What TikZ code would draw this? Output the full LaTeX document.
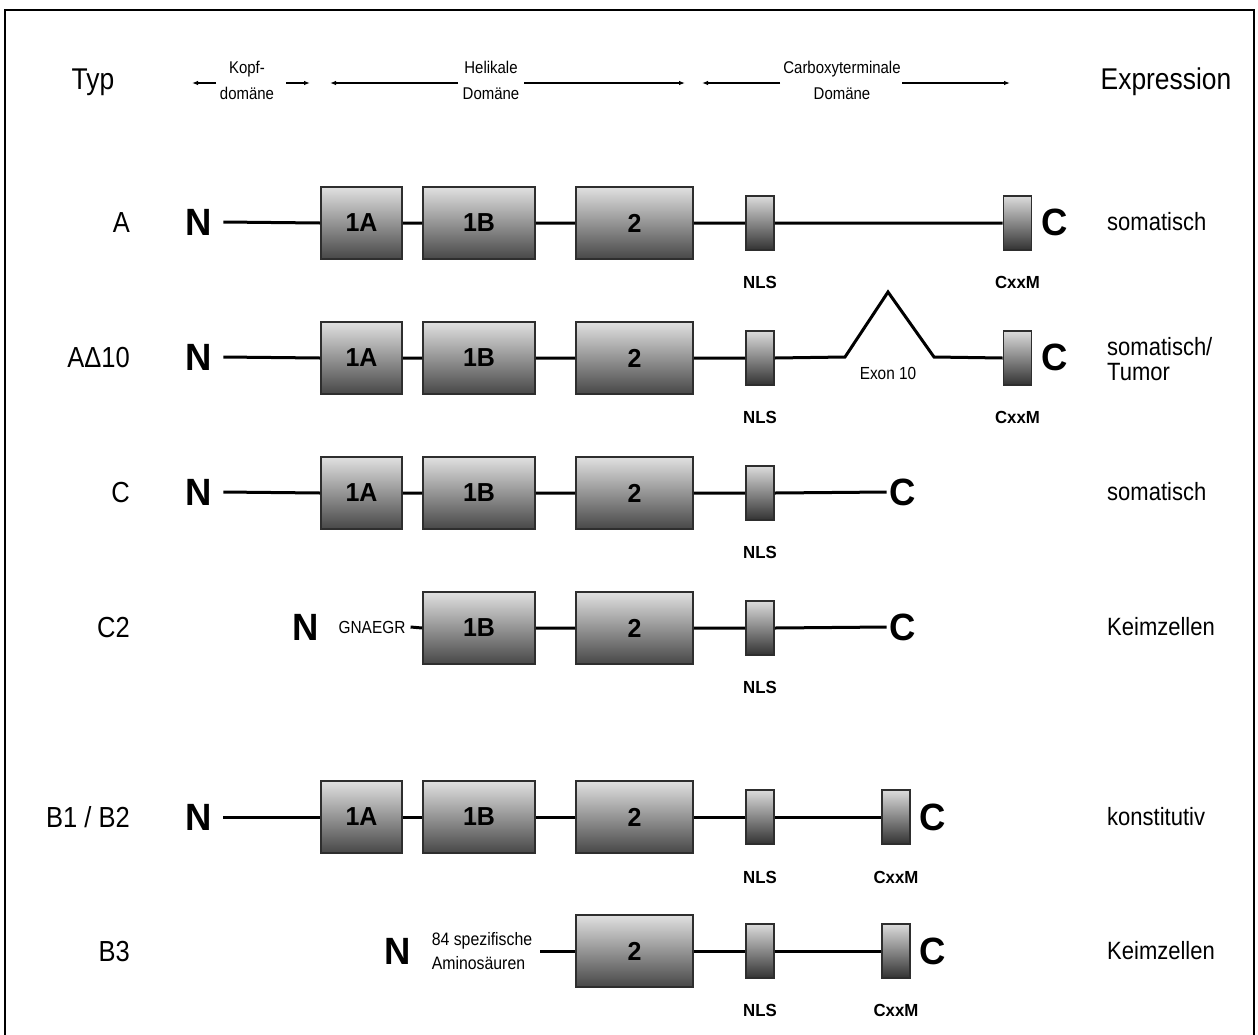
\documentclass[tikz,border=0pt]{standalone}
\usepackage{fontspec}
\setmainfont{Liberation Sans}[FakeStretch=0.88]
\newfontfamily\boldfam{Liberation Sans}[FakeStretch=0.96]
\usetikzlibrary{arrows.meta}
\begin{document}
\begin{tikzpicture}[x=1pt,y=-1pt,
  bigbox/.style={draw=black!82, line width=1.6pt, top color=black!12, bottom color=black!72,
    minimum width=#1, minimum height=72pt, inner sep=0pt, font=\boldfam\fontsize{26}{26}\selectfont\bfseries},
  smallbox/.style={draw=black!82, line width=1.6pt, top color=black!14, bottom color=black!80,
    minimum width=28pt, minimum height=54pt, inner sep=0pt},
  term/.style={font=\boldfam\fontsize{38}{38}\selectfont\bfseries, inner ysep=0pt, inner xsep=#1},
  term/.default=11pt,
  chain/.style={line width=3pt},
  motif/.style={font=\boldfam\fontsize{17.5}{17.5}\selectfont\bfseries, inner sep=0pt},
  typlab/.style={font=\fontsize{29}{29}\selectfont, inner sep=0pt, anchor=base east},
  exprlab/.style={font=\fontsize{25}{28}\selectfont, inner sep=0pt, anchor=base west},
  headtxt/.style={font=\fontsize{17}{26}\selectfont, align=center, inner sep=0pt},
  harr/.style={line width=1.1pt, -{Latex[length=6pt,width=4.5pt]}},
  note/.style={font=\fontsize{17.5}{21}\selectfont, inner ysep=0pt}
]
\useasboundingbox (0,0) rectangle (1258,1034);
\fill[white] (0,0) rectangle (1258,1034);
\draw[line width=2.5pt] (5,1045) -- (5,10) -- (1254,10) -- (1254,1045);

% header
\node[font=\fontsize{30}{30}\selectfont, inner sep=0pt, anchor=base] (typ) at (93,89) {Typ};
\node[font=\fontsize{30}{30}\selectfont, inner sep=0pt, anchor=base] (expr) at (1166,89) {Expression};
\node[headtxt] (kopf) at (247,80) {Kopf-\\domäne};
\node[headtxt] (heli) at (491,80) {Helikale\\Domäne};
\node[headtxt] (carb) at (842,80) {Carboxyterminale\\Domäne};
\coordinate (k1s) at (216,83); \coordinate (k1e) at (192,83);
\coordinate (k2s) at (286,83); \coordinate (k2e) at (310,83);
\coordinate (h1s) at (458,83); \coordinate (h1e) at (330,83);
\coordinate (h2s) at (524,83); \coordinate (h2e) at (685,83);
\coordinate (c1s) at (780,83); \coordinate (c1e) at (702,83);
\coordinate (c2s) at (902,83); \coordinate (c2e) at (1010,83);
\draw[harr] (k1s) -- (k1e);
\draw[harr] (k2s) -- (k2e);
\draw[harr] (h1s) -- (h1e);
\draw[harr] (h2s) -- (h2e);
\draw[harr] (c1s) -- (c1e);
\draw[harr] (c2s) -- (c2e);

% ---------- row A (y=222)
\node[typlab] (tA) at (130,232) {A};
\node[term] (nA) at (199,222) {N};
\node[bigbox=81pt] (aA) at (361.5,223) {1A};
\node[bigbox=112pt] (aB) at (479,223) {1B};
\node[bigbox=117pt] (a2) at (634.5,223) {2};
\node[smallbox] (aN) at (760,223) {};
\node[smallbox] (aX) at (1017.5,223) {};
\node[term] (aC) at (1055,222) {C};
\node[motif] (aNl) at (760,282) {NLS};
\node[motif] (aXl) at (1017.5,282) {CxxM};
\node[exprlab] (eA) at (1107,230) {somatisch};
\draw[chain] (nA.east) -- (aA.west) (aA.east) -- (aB.west) (aB.east) -- (a2.west)
  (a2.east) -- (aN.west) (aN.east) -- (aX.west);

% ---------- row A Delta 10 (y=357)
\node[typlab] (tD) at (130,367) {AΔ10};
\node[term] (nD) at (199,357) {N};
\node[bigbox=81pt] (dA) at (361.5,358) {1A};
\node[bigbox=112pt] (dB) at (479,358) {1B};
\node[bigbox=117pt] (d2) at (634.5,358) {2};
\node[smallbox] (dN) at (760,358) {};
\node[smallbox] (dX) at (1017.5,358) {};
\node[term] (dC) at (1055,357) {C};
\node[motif] (dNl) at (760,417) {NLS};
\node[motif] (dXl) at (1017.5,417) {CxxM};
\node[font=\fontsize{25}{25}\selectfont, inner sep=0pt, align=left, anchor=west] (eD) at (1107,359) {somatisch/\\Tumor};
\coordinate (t1) at (845,357); \coordinate (t2) at (888,292); \coordinate (t3) at (934,357);
\node[note] (exon) at (888,373) {Exon 10};
\draw[chain] (nD.east) -- (dA.west) (dA.east) -- (dB.west) (dB.east) -- (d2.west)
  (d2.east) -- (dN.west);
\draw[chain, line join=miter] (dN.east) -- (t1) -- (t2) -- (t3) -- (dX.west);

% ---------- row C (y=492)
\node[typlab] (tC) at (130,502) {C};
\node[term] (nC) at (199,492) {N};
\node[bigbox=81pt] (cA) at (361.5,493) {1A};
\node[bigbox=112pt] (cB) at (479,493) {1B};
\node[bigbox=117pt] (c2) at (634.5,493) {2};
\node[smallbox] (cN) at (760,493) {};
\node[term=3pt] (cC) at (903,492) {C};
\node[motif] (cNl) at (760,552) {NLS};
\node[exprlab] (eC) at (1107,500) {somatisch};
\draw[chain] (nC.east) -- (cA.west) (cA.east) -- (cB.west) (cB.east) -- (c2.west)
  (c2.east) -- (cN.west) (cN.east) -- (cC.west);

% ---------- row C2 (y=627)
\node[typlab] (tC2) at (130,637) {C2};
\node[term=4pt] (nC2) at (305.5,627) {N};
\node[note, inner xsep=5pt] (gn) at (372,627) {GNAEGR};
\node[bigbox=112pt] (gB) at (479,628) {1B};
\node[bigbox=117pt] (g2) at (634.5,628) {2};
\node[smallbox] (gN) at (760,628) {};
\node[term=3pt] (gC) at (903,627) {C};
\node[motif] (gNl) at (760,687) {NLS};
\node[exprlab] (eC2) at (1107,635) {Keimzellen};
\draw[chain] (gn.east) -- (gB.west) (gB.east) -- (g2.west) (g2.east) -- (gN.west) (gN.east) -- (gC.west);

% ---------- row B1 / B2 (y=817)
\node[typlab] (tB) at (130,827) {B1 / B2};
\node[term] (nB) at (199,817) {N};
\node[bigbox=81pt] (bA) at (361.5,817) {1A};
\node[bigbox=112pt] (bB) at (479,817) {1B};
\node[bigbox=117pt] (b2) at (634.5,817) {2};
\node[smallbox] (bN) at (760,817) {};
\node[smallbox] (bX) at (896,817) {};
\node[term] (bC) at (933,817) {C};
\node[motif] (bNl) at (760,877) {NLS};
\node[motif] (bXl) at (896,877) {CxxM};
\node[exprlab] (eB) at (1107,825) {konstitutiv};
\draw[chain] (nB.east) -- (bA.west) (bA.east) -- (bB.west) (bB.east) -- (b2.west)
  (b2.east) -- (bN.west) (bN.east) -- (bX.west);

% ---------- row B3 (y=951)
\node[typlab] (tB3) at (130,961) {B3};
\node[term=4pt] (nB3) at (398,951) {N};
\node[font=\fontsize{18}{24}\selectfont, align=left, inner ysep=0pt, inner xsep=8pt] (sp) at (482,951) {84 spezifische\\Aminosäuren};
\node[bigbox=117pt] (s2) at (634.5,951) {2};
\node[smallbox] (sN) at (760,951) {};
\node[smallbox] (sX) at (896,951) {};
\node[term] (sC) at (933,951) {C};
\node[motif] (sNl) at (760,1010) {NLS};
\node[motif] (sXl) at (896,1010) {CxxM};
\node[exprlab] (eB3) at (1107,959) {Keimzellen};
\draw[chain] (sp.east) -- (s2.west) (s2.east) -- (sN.west) (sN.east) -- (sX.west);
\end{tikzpicture}
\end{document}
